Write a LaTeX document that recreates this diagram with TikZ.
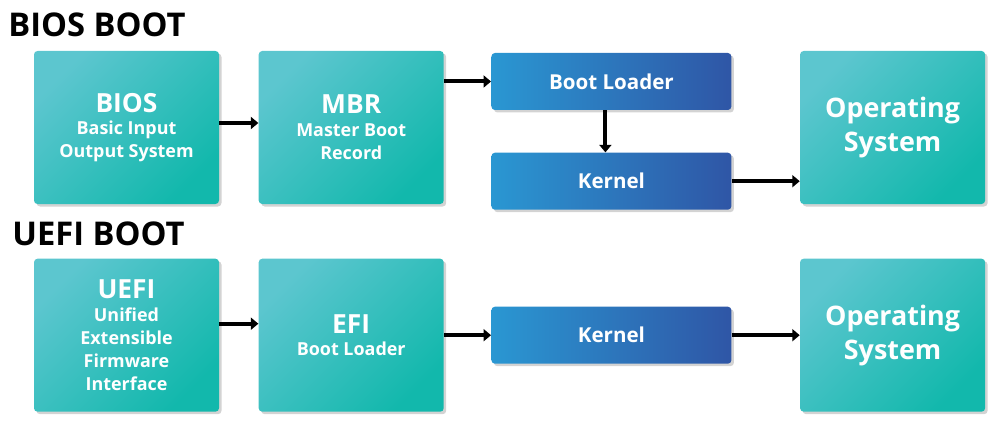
\documentclass[tikz,border=0pt]{standalone}
\usepackage{fontspec}
\setmainfont{Open Sans}
\usepackage{xcolor}
\usetikzlibrary{shapes, arrows.meta, positioning, calc, shadows}
\definecolor{tealA}{HTML}{5CC6CF}
\definecolor{tealB}{HTML}{12B8AC}
\definecolor{blueA}{HTML}{2A97D2}
\definecolor{blueB}{HTML}{2F56A6}
\tikzset{
    stage/.style={
        rectangle,
        rounded corners=2pt,
        minimum width=3.7cm,
        minimum height=3.06cm,
        top color=tealA,
        bottom color=tealB,
        shading angle=45,
        drop shadow={shadow xshift=0.05cm, shadow yshift=-0.05cm, opacity=0.35},
        text=white,
        font=\bfseries\fontsize{10.2}{13}\selectfont,
        align=center,
    },
    osstage/.style={
        stage,
        font=\bfseries\fontsize{15.3}{19.5}\selectfont,
    },
    substage/.style={
        rectangle,
        rounded corners=2pt,
        minimum width=4.8cm,
        minimum height=1.14cm,
        left color=blueA,
        right color=blueB,
        drop shadow={shadow xshift=0.05cm, shadow yshift=-0.05cm, opacity=0.35},
        text=white,
        font=\bfseries\fontsize{11.7}{14}\selectfont,
    },
    heading/.style={
        anchor=west,
        inner sep=0pt,
        font=\bfseries\fontsize{18.6}{22}\selectfont,
    },
}
\newcommand{\bigtxt}[1]{{\fontsize{15}{18}\selectfont #1}}

\begin{document}
\begin{tikzpicture}[node distance=0.78cm and 0.78cm, flow/.style={line width=0.08cm, -{Triangle[length=0.15cm,width=0.24cm]}}]
      \useasboundingbox (0,0) rectangle (20,-8.46);

      \node [heading] (biosboot) at (0.16,-0.5) {BIOS BOOT};
      \node [heading] (uefiboot) at (0.24,-4.68) {UEFI BOOT};

      % BIOS row
      \node [stage] (bios) at (2.53,-2.55) {\bigtxt{BIOS}\\ Basic Input\\ Output System};
      \node [stage] (mbr) [right=0.78cm of bios] {\bigtxt{MBR}\\ Master Boot\\ Record};
      \node [substage] (loader) [right=0.94cm of mbr.north east, anchor=north west, yshift=-0.04cm] {Boot Loader};
      \node [substage] (kernel) [below=0.84cm of loader] {Kernel};
      \node [osstage] (os) [right=1.36cm of loader.north east, anchor=north west, yshift=0.04cm] {Operating\\ System};

      % UEFI row
      \node [stage] (uefi) [below=1.08cm of bios] {\bigtxt{UEFI}\\ Unified\\ Extensible\\ Firmware\\ Interface};
      \node [stage] (efi) [right=0.78cm of uefi] {\bigtxt{EFI}\\ Boot Loader};
      \node [substage] (kernelb) [right=0.94cm of efi] {Kernel};
      \node [osstage] (osb) [right=1.36cm of kernelb] {Operating\\ System};

      \path[flow] ([yshift=0.09cm]bios.east) edge ([yshift=0.09cm]mbr.west);
      \path[flow] (mbr.east |- loader) edge (loader.west);
      \path[flow] ([xshift=-0.12cm]loader.south) edge ([xshift=-0.12cm]kernel.north);
      \path[flow] (kernel.east) edge (kernel.east -| os.west);
      \path[flow] ([yshift=0.23cm]uefi.east) edge ([yshift=0.23cm]efi.west);
      \path[flow] (efi.east |- kernelb) edge (kernelb.west);
      \path[flow] (kernelb.east) edge (kernelb.east -| osb.west);
\end{tikzpicture}
\end{document}
